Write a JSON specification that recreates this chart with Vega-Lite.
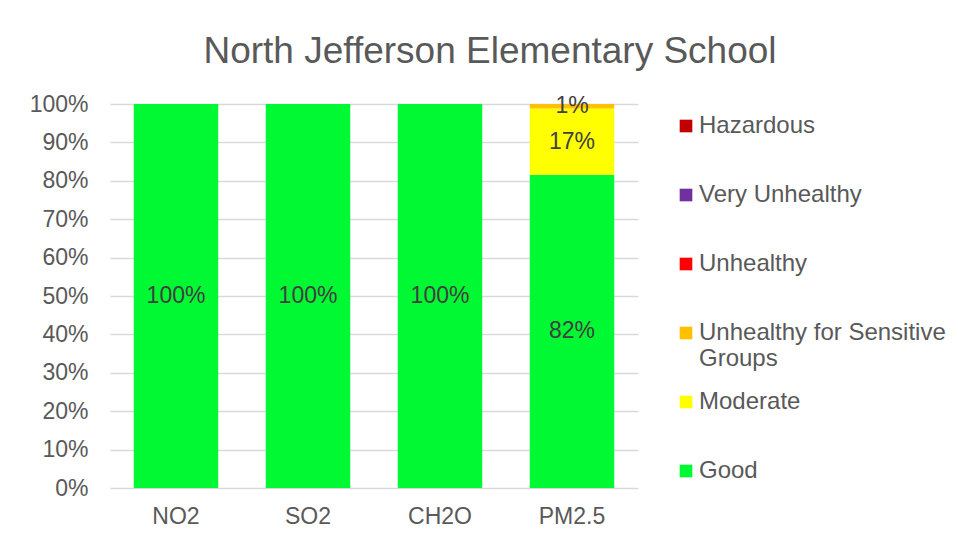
{
  "$schema": "https://vega.github.io/schema/vega-lite/v6.json",
  "width": 528,
  "height": 384,
  "autosize": "none",
  "padding": {"left": 110, "top": 104, "right": 320, "bottom": 52},
  "background": "white",
  "config": {
    "view": {"stroke": null},
    "font": "Liberation Sans"
  },
  "title": {
    "text": "North Jefferson Elementary School",
    "fontSize": 37,
    "fontWeight": "normal",
    "color": "#595959",
    "font": "Liberation Sans",
    "dx": 116,
    "offset": 22
  },
  "data": {
    "values": [
      {"pollutant": "NO2", "category": "Good", "level": 1, "value": 1.0},
      {"pollutant": "SO2", "category": "Good", "level": 1, "value": 1.0},
      {"pollutant": "CH2O", "category": "Good", "level": 1, "value": 1.0},
      {"pollutant": "PM2.5", "category": "Good", "level": 1, "value": 0.816},
      {"pollutant": "PM2.5", "category": "Moderate", "level": 2, "value": 0.172},
      {"pollutant": "PM2.5", "category": "Unhealthy for Sensitive Groups", "level": 3, "value": 0.012}
    ]
  },
  "transform": [
    {"stack": "value", "groupby": ["pollutant"], "sort": [{"field": "level", "order": "ascending"}], "offset": "normalize", "as": ["y0", "y1"]},
    {"calculate": "(datum.y0 + datum.y1) / 2", "as": "ymid"}
  ],
  "encoding": {
    "x": {
      "field": "pollutant",
      "type": "nominal",
      "sort": ["NO2", "SO2", "CH2O", "PM2.5"],
      "scale": {"paddingInner": 0.36, "paddingOuter": 0.18},
      "axis": {
        "title": null,
        "labelAngle": 0,
        "ticks": false,
        "domain": false,
        "labelFontSize": 23,
        "labelColor": "#595959",
        "labelPadding": 17
      }
    }
  },
  "layer": [
    {
      "mark": {"type": "bar"},
      "encoding": {
        "y": {
          "field": "y0",
          "type": "quantitative",
          "scale": {"domain": [0, 1], "nice": false},
          "axis": {
            "title": null,
            "values": [0, 0.1, 0.2, 0.3, 0.4, 0.5, 0.6, 0.7, 0.8, 0.9, 1],
            "tickCount": 11,
            "format": ".0%",
            "domain": false,
            "ticks": false,
            "gridColor": "#d9d9d9",
            "gridWidth": 1.3,
            "labelFontSize": 23,
            "labelColor": "#595959",
            "labelPadding": 22,
            "labelOverlap": false
          }
        },
        "y2": {"field": "y1"},
        "color": {
          "field": "category",
          "type": "nominal",
          "scale": {
            "domain": ["Hazardous", "Very Unhealthy", "Unhealthy", "Unhealthy for Sensitive Groups", "Moderate", "Good"],
            "range": ["#C00000", "#7030A0", "#FF0000", "#FFC000", "#FFFF00", "#00F932"]
          },
          "legend": {
            "title": null,
            "orient": "right",
            "offset": 26,
            "padding": 10,
            "symbolType": "square",
            "symbolSize": 160,
            "symbolStrokeWidth": 0,
            "symbolOpacity": 1,
            "labelFontSize": 24,
            "labelColor": "#595959",
            "labelOffset": 1,
            "labelLimit": 400,
            "gridAlign": "all",
            "rowPadding": 19,
            "labelExpr": "datum.label == 'Unhealthy for Sensitive Groups' ? ['Unhealthy for Sensitive', 'Groups'] : datum.label"
          }
        }
      }
    },
    {
      "mark": {"type": "text", "fontSize": 23, "color": "#404040"},
      "encoding": {
        "y": {
          "field": "ymid",
          "type": "quantitative",
          "axis": {
            "title": null,
            "values": [0, 0.1, 0.2, 0.3, 0.4, 0.5, 0.6, 0.7, 0.8, 0.9, 1],
            "tickCount": 11,
            "format": ".0%",
            "domain": false,
            "ticks": false,
            "gridColor": "#d9d9d9",
            "gridWidth": 1.3,
            "labelFontSize": 23,
            "labelColor": "#595959",
            "labelPadding": 22,
            "labelOverlap": false
          }
        },
        "text": {"field": "value", "type": "quantitative", "format": ".0%"}
      }
    }
  ]
}
